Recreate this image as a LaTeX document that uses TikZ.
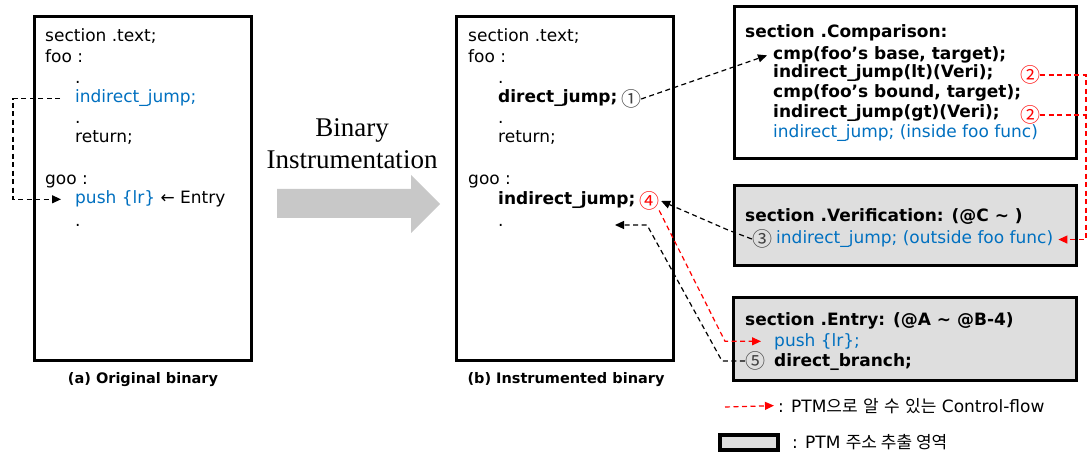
\documentclass[tikz,border=0pt]{standalone}
\usepackage{fontspec}
\setmainfont{DejaVu Sans}
\newfontfamily\kr{Noto Sans CJK KR}
\newfontfamily\tms{Liberation Serif}
\usetikzlibrary{arrows.meta}
\definecolor{codeblue}{RGB}{0,112,192}
\definecolor{flowred}{RGB}{255,0,0}
\definecolor{boxgray}{RGB}{222,222,222}
\definecolor{arrowgray}{RGB}{200,200,200}
\definecolor{numgray}{RGB}{64,64,64}
\begin{document}
\begin{tikzpicture}[x=1pt,y=-1pt,
  code/.style={anchor=base west, inner sep=0pt, font=\fontsize{17}{20}\selectfont},
  bcode/.style={code, font=\fontsize{17}{20}\selectfont\bfseries},
  bluecode/.style={code, text=codeblue},
  circ/.style={inner sep=0pt, font=\kr\fontsize{20}{20}\selectfont, text=numgray},
  rcirc/.style={circ, text=flowred},
  codebox/.style={draw, line width=3pt, inner sep=0pt, fill=white},
  ptmbox/.style={codebox, fill=boxgray},
  caption/.style={inner sep=0pt, font=\fontsize{14.5}{15}\selectfont\bfseries},
  blkdash/.style={draw=black, line width=1.2pt, dash pattern=on 5pt off 3.5pt,
    -{Triangle[length=9pt,width=8pt]}},
  reddash/.style={blkdash, draw=flowred}
]
\useasboundingbox (0,0) rectangle (1087,454);

% code boxes
\node[codebox, minimum width=217pt, minimum height=344pt] (boxA) at (143,188.5) {};
\node[codebox, minimum width=217pt, minimum height=344pt] (boxB) at (565,188.5) {};
\node[codebox, minimum width=342pt, minimum height=152pt] (boxC) at (905.5,82.5) {};
\node[ptmbox, minimum width=342pt, minimum height=80pt] (boxV) at (905.5,226) {};
\node[ptmbox, minimum width=343pt, minimum height=82pt] (boxE) at (905,339) {};

% instrumentation arrow
\fill[arrowgray] (277,189) -- (411,189) -- (411,175) -- (440,204) -- (411,233)
  -- (411,218) -- (277,218) -- cycle;
\node[align=center, inner sep=0pt, font=\tms\fontsize{27}{32}\selectfont] (bi)
  at (352,144) {Binary\\Instrumentation};

% original binary
\node[code] (a1) at (45,42) {section .text;};
\node[code] (a2) at (45,63) {foo :};
\node[code] (a3) at (75,84) {.};
\node[bluecode] (a4) at (75,103) {indirect\_jump;};
\node[code] (a5) at (75,124) {.};
\node[code] (a6) at (75,143) {return;};
\node[code] (a7) at (45,185) {goo :};
\node[code] (a8) at (75,204) {\textcolor{codeblue}{push \{lr\}} ← Entry};
\node[code] (a9) at (75,227) {.};
\node[caption] (capA) at (143,380) {(a) Original binary};

% instrumented binary
\node[code] (b1) at (468,42) {section .text;};
\node[code] (b2) at (468,63) {foo :};
\node[code] (b3) at (498,84) {.};
\node[bcode] (b4) at (498,103) {direct\_jump;};
\node[circ] (n1) at (631,99) {①};
\node[code] (b5) at (498,124) {.};
\node[code] (b6) at (498,143) {return;};
\node[code] (b7) at (468,185) {goo :};
\node[bcode] (b8) at (498,205) {indirect\_jump;};
\node[rcirc] (n4) at (649,201) {④};
\node[code] (b9) at (498,227) {.};
\node[caption] (capB) at (566,380) {(b) Instrumented binary};

% comparison section
\node[bcode] (c0) at (745,38) {section .Comparison:};
\node[bcode] (c1) at (773,60) {cmp(foo’s base, target);};
\node[bcode] (c2) at (773,78) {indirect\_jump(lt)(Veri);};
\node[bcode] (c3) at (773,98) {cmp(foo’s bound, target);};
\node[bcode] (c4) at (773,118) {indirect\_jump(gt)(Veri);};
\node[bluecode] (c5) at (773,138) {indirect\_jump; (inside foo func)};
\node[rcirc] (n2a) at (1030,75) {②};
\node[rcirc] (n2b) at (1030,115) {②};

% verification section
\node[bcode] (v0) at (745,222) {section .Verification: (@C \textasciitilde{} )};
\node[circ] (n3) at (762,239) {③};
\node[bluecode] (v1) at (776,244) {indirect\_jump; (outside foo func)};

% entry section
\node[bcode] (e0) at (745,326) {section .Entry: (@A \textasciitilde{} @B-4)};
\node[bluecode] (e1) at (774,346) {push \{lr\};};
\node[circ] (n5) at (755,361) {⑤};
\node[bcode] (e2) at (774,366) {direct\_branch;};

% control flow
\coordinate (lA) at (13,0);
\draw[blkdash] ([xshift=-15pt]a4.west) -- (a4.west -| lA) -- (a8.west -| lA)
  -- ([xshift=-14pt]a8.west);
\draw[blkdash] (n1.east) -- ([xshift=-6pt]c1.west);
\coordinate (rr) at (1086,0);
\draw[reddash,-] (n2b.east) -- (n2b.east -| rr);
\draw[reddash] (n2a.east) -- (n2a.east -| rr) -- (v1.east -| rr) -- ([xshift=5pt]v1.east);
\coordinate (k3) at (728,230);
\draw[blkdash] (n3.west) -- (k3) -- ([xshift=2pt]n4.east);
\coordinate (k4) at (725,0);
\draw[reddash] (n4.south east) -- (e1.west -| k4) -- ([xshift=-13pt]e1.west);
\coordinate (k5a) at (722,0);
\coordinate (k5b) at (647,225);
\coordinate (t5) at (615,225);
\draw[blkdash] (n5.west) -- (n5.west -| k5a) -- (k5b) -- (t5);

% legend
\coordinate (lg0) at (725,407);
\node[code] (lg1) at (778,412) {: PTM{\kr 으로} {\kr 알} {\kr 수} {\kr 있는} Control-flow};
\draw[reddash] (lg0) -- ([xshift=-4pt]lg1.west);
\node[ptmbox, line width=4pt, minimum width=58pt, minimum height=15pt] (lgbox) at (749,442.5) {};
\node[code] (lg2) at (792,448) {: PTM {\kr 주소 추출 영역}};
\end{tikzpicture}
\end{document}
